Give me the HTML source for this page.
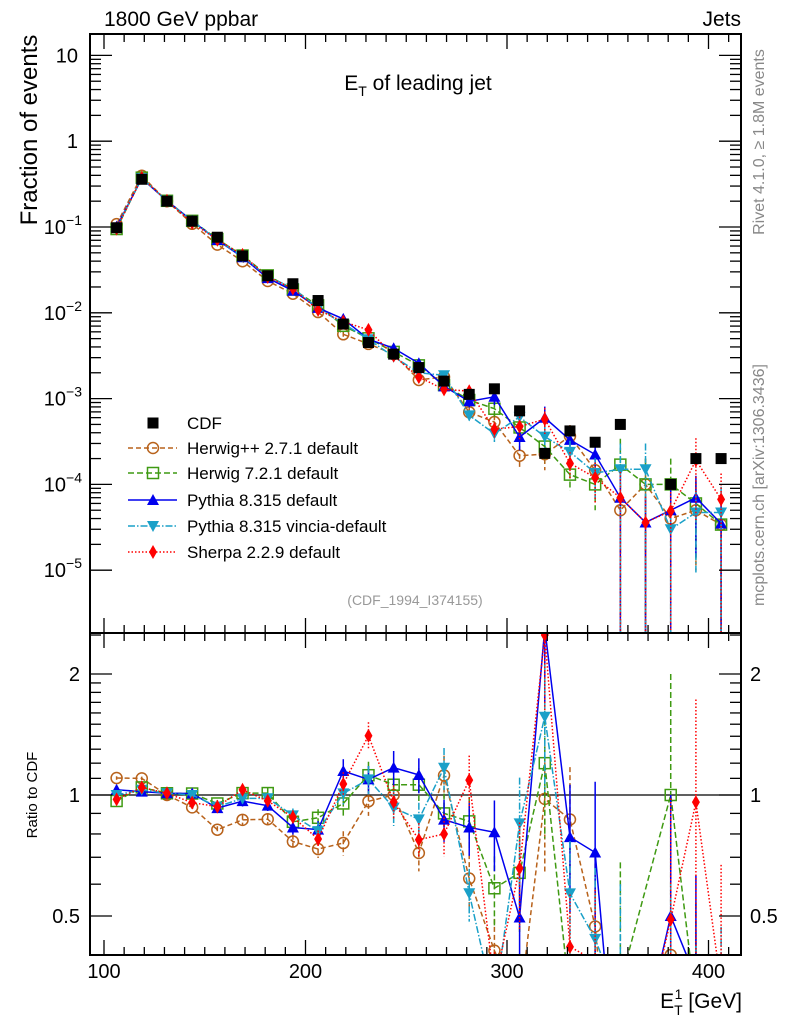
<!DOCTYPE html>
<html><head><meta charset="utf-8"><style>
html,body{margin:0;padding:0;background:#fff;overflow:hidden;width:786px;height:1024px;}
svg{display:block;font-family:"Liberation Sans",Arial,sans-serif;}
</style></head><body>
<svg id="chart" width="786" height="1024" viewBox="0 0 786 1024" xmlns="http://www.w3.org/2000/svg">
<rect x="0" y="0" width="786" height="1024" fill="#fff"/>
<text x="104" y="26" font-size="21">1800 GeV ppbar</text>
<text x="741" y="26" font-size="21" text-anchor="end">Jets</text>
<text x="418" y="90" font-size="21" text-anchor="middle">E<tspan font-size="14" dy="6">T</tspan><tspan dy="-6"> of leading jet</tspan></text>
<text transform="translate(37,130) rotate(-90)" font-size="24" text-anchor="middle">Fraction of events</text>
<text transform="translate(37,795) rotate(-90)" font-size="15" text-anchor="middle">Ratio to CDF</text>
<text transform="translate(764,142) rotate(-90)" font-size="16" fill="#888" text-anchor="middle">Rivet 4.1.0, ≥ 1.8M events</text>
<text transform="translate(764,485) rotate(-90)" font-size="16" fill="#888" text-anchor="middle">mcplots.cern.ch [arXiv:1306.3436]</text>
<text x="415" y="605" font-size="14" fill="#999" text-anchor="middle">(CDF_1994_I374155)</text>
<text x="742" y="1008" font-size="21" text-anchor="end">E<tspan font-size="14" dy="7">T</tspan><tspan font-size="14" dx="-8" dy="-16">1</tspan><tspan dy="9"> [GeV]</tspan></text>
<g id="g-main"></g>
<g id="g-ratio"></g>
<g id="g-axes"></g>
<g id="g-legend"></g>
</svg>
<script>
const binCenters=[106.25,118.75,131.25,143.75,156.25,168.75,181.25,193.75,206.25,218.75,231.25,243.75,256.25,268.75,281.25,293.75,306.25,318.75,331.25,343.75,356.25,368.75,381.25,393.75,406.25];
const cdfValues=[0.098,0.36,0.2,0.117,0.076,0.046,0.027,0.0218,0.0139,0.0074,0.0045,0.0033,0.0023,0.0016,0.00112,0.0013,0.00072,0.00023,0.00042,0.00031,0.0005,null,0.0001,0.0002,0.0002];
const herwigPPValues=[0.108,0.396,0.2,0.109,0.0623,0.0399,0.0235,0.0167,0.0102,0.00562,0.00434,0.0033,0.00165,0.00179,0.000694,0.000533,0.000216,0.000225,0.000365,0.000146,0.00005,0.0001,0.00004,0.00005,0.000034];
const herwig7Values=[0.0947,0.376,0.202,0.118,0.0724,0.0465,0.0273,0.0187,0.0122,0.00705,0.00504,0.0035,0.00244,0.00144,0.000963,0.000762,0.000461,0.000276,0.00013,0.0001,0.00017,0.0001,0.0001,0.00006,0.000034];
const pythiaValues=[0.101,0.367,0.202,0.118,0.0705,0.0444,0.0254,0.0181,0.0114,0.00849,0.00492,0.00386,0.00258,0.00139,0.00093,0.00105,0.000357,0.000598,0.00033,0.000223,0.00007,0.000036,0.00005,0.00007,0.000035];
const vinciaValues=[0.098,0.371,0.202,0.117,0.0711,0.0451,0.0265,0.0194,0.0113,0.00747,0.00492,0.00307,0.002,0.00187,0.000638,0.00039,0.000612,0.00036,0.000239,0.000136,0.00015,0.00015,0.00003,0.000047,0.000047];
const sherpaValues=[0.0956,0.376,0.202,0.112,0.0711,0.0474,0.0261,0.0192,0.0108,0.00788,0.00632,0.00317,0.00178,0.00128,0.00122,0.00044,0.000473,0.000575,0.000176,0.00012,0.00007,0.000036,0.000049,0.000192,0.000067];
const relErr=[0.01,0.01,0.01,0.02,0.02,0.03,0.03,0.04,0.05,0.07,0.08,0.1,0.1,0.12,0.15,0.2,0.3,0.35,0.35,0.5,1,1,1,0.8,1];
const xTicks=[100,200,300,400];
const yDecades=[-5,-4,-3,-2,-1,0,1];
const ratioLabels=[0.5,1,2];

const NS="http://www.w3.org/2000/svg";
const L=90,R=741,T=34,MB=633,RB=955;
const X=e=>104+(e-100)*2.015;
const Y=v=>227-85.8*Math.log10(v/0.1);
const RY=r=>795-402*Math.log10(r);
function mk(tag,attrs,parent){const el=document.createElementNS(NS,tag);for(const k in attrs)el.setAttribute(k,attrs[k]);parent.appendChild(el);return el;}
const gMain=document.getElementById('g-main'),gRatio=document.getElementById('g-ratio'),gAxes=document.getElementById('g-axes'),gLeg=document.getElementById('g-legend');
const defs=mk('defs',{},document.getElementById('chart'));
const cp1=mk('clipPath',{id:'clipMain'},defs);mk('rect',{x:L,y:T,width:R-L,height:MB-T},cp1);
const cp2=mk('clipPath',{id:'clipRatio'},defs);mk('rect',{x:L,y:MB,width:R-L,height:RB-MB},cp2);
gMain.setAttribute('clip-path','url(#clipMain)');gRatio.setAttribute('clip-path','url(#clipRatio)');

const series=[
 {name:'herwigpp',label:'Herwig++ 2.7.1 default',vals:herwigPPValues,col:'#b8621b',dash:'5,3',mk:'circle'},
 {name:'herwig7',label:'Herwig 7.2.1 default',vals:herwig7Values,col:'#3f9a12',dash:'6,3',mk:'square'},
 {name:'pythia',label:'Pythia 8.315 default',vals:pythiaValues,col:'#0000ee',dash:'',mk:'tri'},
 {name:'vincia',label:'Pythia 8.315 vincia-default',vals:vinciaValues,col:'#1aa0c8',dash:'7,2,1.5,2',mk:'tridown'},
 {name:'sherpa',label:'Sherpa 2.2.9 default',vals:sherpaValues,col:'#ff0000',dash:'1.5,2',mk:'diamond'}];

function marker(type,x,y,col,parent){
 let el;
 if(type==='circle')el=mk('circle',{cx:x,cy:y,r:5.5,fill:'none',stroke:col,'stroke-width':1.5},parent);
 else if(type==='square')el=mk('rect',{x:x-5.5,y:y-5.5,width:11,height:11,fill:'none',stroke:col,'stroke-width':1.5},parent);
 else if(type==='cdf')el=mk('rect',{x:x-5.5,y:y-5.5,width:11,height:11,fill:col},parent);
 else if(type==='tri')el=mk('polygon',{points:`${x-6},${y+5} ${x+6},${y+5} ${x},${y-6}`,fill:col},parent);
 else if(type==='tridown')el=mk('polygon',{points:`${x-6},${y-5} ${x+6},${y-5} ${x},${y+6}`,fill:col},parent);
 else el=mk('polygon',{points:`${x},${y-7} ${x+4},${y} ${x},${y+7} ${x-4},${y}`,fill:col},parent);
 return el;
}
function errbar(x,y1,y2,col,dash,parent){
 return mk('line',{x1:x,x2:x,y1:y1,y2:y2,stroke:col,'stroke-width':1.5,'stroke-dasharray':dash},parent);
}
series.forEach(s=>{
 const g=mk('g',{},gMain);
 
 
 const pts=s.vals.map((v,i)=>v?[X(binCenters[i]),Y(v)]:null).filter(p=>p);
 const line=mk('polyline',{points:pts.map(p=>p.join(',')).join(' '),fill:'none',stroke:s.col,'stroke-width':1.5,'stroke-dasharray':s.dash},g);
 
 
 s.vals.forEach((v,i)=>{
  if(!v)return;
  const x=X(binCenters[i]),e=relErr[i];
  const lo=(1-e)>0.001?Y(v*(1-e)):MB;
  const eb=errbar(x,Y(v*(1+e)),lo,s.col,s.dash,g);
  
  
  const m=marker(s.mk,x,Y(v),s.col,g);
  
  
 });
});
const gC=mk('g',{},gMain);


cdfValues.forEach((v,i)=>{
 if(!v)return;
 const m=marker('cdf',X(binCenters[i]),Y(v),'#000',gC);
 
 
});
const one=mk('line',{x1:L,x2:R,y1:RY(1),y2:RY(1),stroke:'#000','stroke-width':1.2},gRatio);


series.forEach(s=>{
 const g=mk('g',{},gRatio);
 
 
 const rs=s.vals.map((v,i)=>(v&&cdfValues[i])?v/cdfValues[i]:null);
 const pts=rs.map((r,i)=>r?[X(binCenters[i]),RY(r)]:null).filter(p=>p);
 const line=mk('polyline',{points:pts.map(p=>p.join(',')).join(' '),fill:'none',stroke:s.col,'stroke-width':1.5,'stroke-dasharray':s.dash},g);
 
 
 rs.forEach((r,i)=>{
  if(!r)return;
  const x=X(binCenters[i]),e=relErr[i];
  const lo=(1-e)>0.001?RY(r*(1-e)):RB;
  const eb=errbar(x,RY(r*(1+e)),lo,s.col,s.dash,g);
  
  
  const m=marker(s.mk,x,RY(r),s.col,g);
  
  
 });
});
[[T,MB,'main-frame'],[MB,RB,'ratio-frame']].forEach(f=>{
 const r=mk('rect',{x:L,y:f[0],width:R-L,height:f[1]-f[0],fill:'none',stroke:'#000','stroke-width':2},gAxes);
 
 
});
for(let e=100;e<=410;e+=10){
 const x=X(e),len=(e%100===0)?15:8;
 [[T,T+len],[MB,MB-len],[MB,MB+len],[RB,RB-len]].forEach(p=>{
  const t=mk('line',{x1:x,x2:x,y1:p[0],y2:p[1],stroke:'#000','stroke-width':1.3},gAxes);
  
  
 });
}
xTicks.forEach(e=>{
 const t=mk('text',{x:X(e),y:978,'font-size':20,'text-anchor':'middle'},gAxes);
 t.textContent=e;
 
 
});
yDecades.forEach(d=>{
 for(let k=1;k<=9;k++){
  const v=k*Math.pow(10,d),y=Y(v);
  if(y<T||y>MB)continue;
  const len=k===1?22:11;
  [[L,L+len],[R,R-len]].forEach(p=>{
   const t=mk('line',{x1:p[0],x2:p[1],y1:y,y2:y,stroke:'#000','stroke-width':1.3},gAxes);
   
   
  });
 }
 const y=Y(Math.pow(10,d));
 const t=mk('text',{x:d<0?82:78,y:y+7,'font-size':20,'text-anchor':'end'},gAxes);
 if(d===1)t.textContent='10';else if(d===0)t.textContent='1';
 else{t.textContent='10';const s=mk('tspan',{'font-size':14,dy:-9},t);s.textContent='−'+(-d);}
 
 
});
[0.4,0.5,0.6,0.7,0.8,0.9,1,1.1,1.2,1.3,1.4,1.5,1.6,1.7,1.8,1.9,2,2.5].forEach(r=>{
 const y=RY(r);
 if(y<MB||y>RB)return;
 const len=(r===0.5||r===1||r===2)?22:11;
 [[L,L+len],[R,R-len]].forEach(p=>{
  const t=mk('line',{x1:p[0],x2:p[1],y1:y,y2:y,stroke:'#000','stroke-width':1.3},gAxes);
  
  
 });
});
ratioLabels.forEach(r=>{
 const t=mk('text',{x:80,y:RY(r)+7,'font-size':20,'text-anchor':'end'},gAxes);
 t.textContent=r;
 
 
 const t2=mk('text',{x:750,y:RY(r)+7,'font-size':20},gAxes);
 t2.textContent=r;
 
 
});
const legY=[423,448,473,500,526,552];
const le0=mk('g',{},gLeg);


marker('cdf',153,legY[0],'#000',le0);
const lt0=mk('text',{x:187,y:legY[0]+6,'font-size':17},le0);lt0.textContent='CDF';
series.forEach((s,i)=>{
 const g=mk('g',{},gLeg);
 
 
 const y=legY[i+1];
 mk('line',{x1:128,x2:177,y1:y,y2:y,stroke:s.col,'stroke-width':1.5,'stroke-dasharray':s.dash},g);
 marker(s.mk,153,y,s.col,g);
 const t=mk('text',{x:187,y:y+6,'font-size':17},g);t.textContent=s.label;
});
</script>
</body></html>
